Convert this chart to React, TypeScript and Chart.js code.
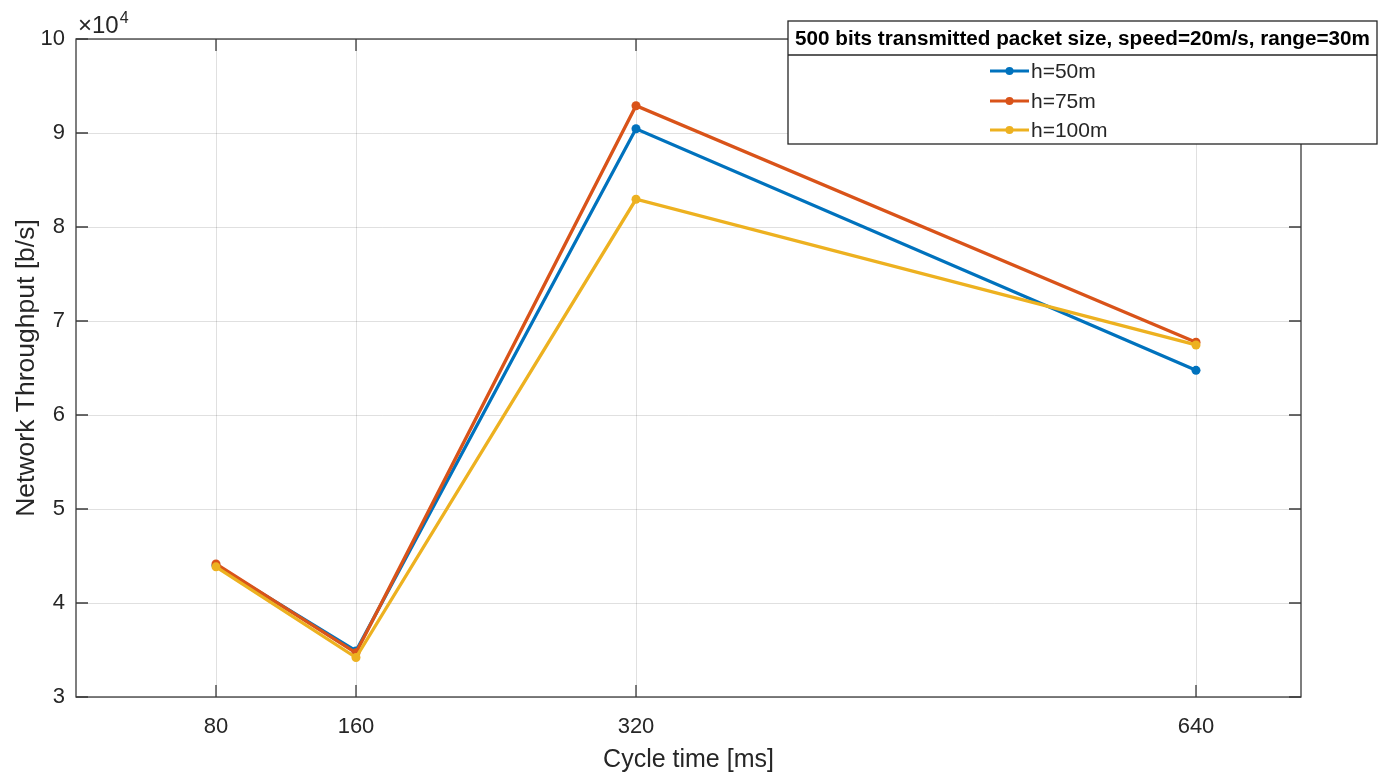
import React, { useEffect, useRef } from "react";
import { Chart, registerables } from "chart.js";

Chart.register(...registerables);

const cycleTimes = [80, 160, 320, 640];
const xTickValues = [80, 160, 320, 640];
const yTickValues = [30000, 40000, 50000, 60000, 70000, 80000, 90000, 100000];

const h50 = [44000, 34900, 90450, 64750];
const h75 = [44150, 34700, 92900, 67750];
const h100 = [43850, 34200, 82950, 67450];

const seriesLabels = ["h=50m", "h=75m", "h=100m"];
const seriesColors = ["#0072BD", "#D95319", "#EDB120"];
const legendTitle = "500 bits transmitted packet size, speed=20m/s, range=30m";
const xTitle = "Cycle time [ms]";
const yTitle = "Network Throughput [b/s]";
const exponentBase = "\u00d710";
const exponentPower = "4";

const FONT = "'Liberation Sans', Arial, Helvetica, sans-serif";
const AXIS_COLOR = "#262626";

const decorPlugin = {
  id: "matlabDecor",
  afterDraw(chart: any) {
    const ctx = chart.ctx as CanvasRenderingContext2D;
    const { left, right, top, bottom } = chart.chartArea;
    const xs = chart.scales.x;
    const ys = chart.scales.y;
    ctx.save();
    // box
    ctx.strokeStyle = "#3a3a3a";
    ctx.lineWidth = 1.3;
    ctx.strokeRect(left, top, right - left, bottom - top);
    // inner tick marks (mirrored)
    const tl = 12;
    ctx.beginPath();
    xTickValues.forEach((v) => {
      const px = xs.getPixelForValue(v);
      ctx.moveTo(px, bottom);
      ctx.lineTo(px, bottom - tl);
      ctx.moveTo(px, top);
      ctx.lineTo(px, top + tl);
    });
    yTickValues.forEach((v) => {
      const py = ys.getPixelForValue(v);
      ctx.moveTo(left, py);
      ctx.lineTo(left + tl, py);
      ctx.moveTo(right, py);
      ctx.lineTo(right - tl, py);
    });
    ctx.stroke();

    // exponent label
    ctx.fillStyle = AXIS_COLOR;
    ctx.textAlign = "left";
    ctx.textBaseline = "alphabetic";
    ctx.font = `24px ${FONT}`;
    ctx.fillText(exponentBase, left + 2, 33);
    const w = ctx.measureText(exponentBase).width;
    ctx.font = `16px ${FONT}`;
    ctx.fillText(exponentPower, left + 3 + w, 23);

    // legend box
    const bx = 788, by = 21, bw = 589, bh = 123, sep = 55;
    ctx.fillStyle = "#ffffff";
    ctx.fillRect(bx, by, bw, bh);
    ctx.strokeStyle = "#262626";
    ctx.lineWidth = 1.3;
    ctx.strokeRect(bx, by, bw, bh);
    ctx.beginPath();
    ctx.moveTo(bx, sep);
    ctx.lineTo(bx + bw, sep);
    ctx.stroke();
    ctx.fillStyle = "#000000";
    ctx.font = `bold 20.7px ${FONT}`;
    ctx.textAlign = "center";
    ctx.textBaseline = "middle";
    ctx.fillText(legendTitle, bx + bw / 2, (by + sep) / 2 + 1);

    const itemY = [71, 101, 130];
    seriesLabels.forEach((lab, i) => {
      const y = itemY[i];
      ctx.strokeStyle = seriesColors[i];
      ctx.lineWidth = 3.2;
      ctx.beginPath();
      ctx.moveTo(990, y);
      ctx.lineTo(1029, y);
      ctx.stroke();
      ctx.fillStyle = seriesColors[i];
      ctx.beginPath();
      ctx.arc(1009.5, y, 4, 0, Math.PI * 2);
      ctx.fill();
      ctx.fillStyle = AXIS_COLOR;
      ctx.font = `21px ${FONT}`;
      ctx.textAlign = "left";
      ctx.textBaseline = "middle";
      ctx.fillText(lab, 1031, y + 1);
    });
    ctx.restore();
  },
};

export default function App() {
  const canvasRef = useRef<HTMLCanvasElement | null>(null);

  useEffect(() => {
    if (!canvasRef.current) return;
    const mk = (label: string, data: number[], color: string, order: number) => ({
      label,
      data: cycleTimes.map((x, i) => ({ x, y: data[i] })),
      borderColor: color,
      backgroundColor: color,
      borderWidth: 3.3,
      pointRadius: 4.5,
      pointHoverRadius: 4.5,
      pointBorderWidth: 0,
      tension: 0,
      order,
    });
    const chart = new Chart(canvasRef.current, {
      type: "line",
      data: {
        datasets: [
          mk(seriesLabels[0], h50, seriesColors[0], 3),
          mk(seriesLabels[1], h75, seriesColors[1], 2),
          mk(seriesLabels[2], h100, seriesColors[2], 1),
        ],
      },
      options: {
        animation: false,
        responsive: true,
        maintainAspectRatio: false,
        layout: { padding: { top: 39, right: 90, left: 0, bottom: 0 } },
        plugins: { legend: { display: false }, tooltip: { enabled: false } },
        scales: {
          x: {
            type: "linear",
            min: 0,
            max: 700,
            afterBuildTicks: (scale: any) => {
              scale.ticks = xTickValues.map((v) => ({ value: v }));
            },
            afterFit: (scale: any) => {
              scale.height = 82;
            },
            grid: { color: "rgba(0,0,0,0.12)", drawTicks: false, lineWidth: 1 },
            border: { display: false },
            ticks: {
              color: AXIS_COLOR,
              font: { family: FONT, size: 22 },
              padding: 17,
              maxRotation: 0,
              autoSkip: false,
            },
            title: {
              display: true,
              text: xTitle,
              color: AXIS_COLOR,
              font: { family: FONT, size: 25 },
              padding: { top: 0, bottom: 4 },
            },
          },
          y: {
            type: "linear",
            min: 30000,
            max: 100000,
            afterBuildTicks: (scale: any) => {
              scale.ticks = yTickValues.map((v) => ({ value: v }));
            },
            afterFit: (scale: any) => {
              scale.width = 76;
            },
            grid: { color: "rgba(0,0,0,0.12)", drawTicks: false, lineWidth: 1 },
            border: { display: false },
            ticks: {
              color: AXIS_COLOR,
              font: { family: FONT, size: 22 },
              padding: 11,
              callback: (v: any) => String(Math.round(Number(v) / 10000)),
            },
            title: {
              display: true,
              text: yTitle,
              color: AXIS_COLOR,
              font: { family: FONT, size: 26.5 },
              padding: { top: 11, bottom: 0 },
            },
          },
        },
      },
      plugins: [decorPlugin],
    });
    return () => chart.destroy();
  }, []);

  return (
    <div style={{ position: "fixed", left: 0, top: 0, width: 1391, height: 779, background: "#fff" }}>
      <canvas ref={canvasRef} />
    </div>
  );
}
